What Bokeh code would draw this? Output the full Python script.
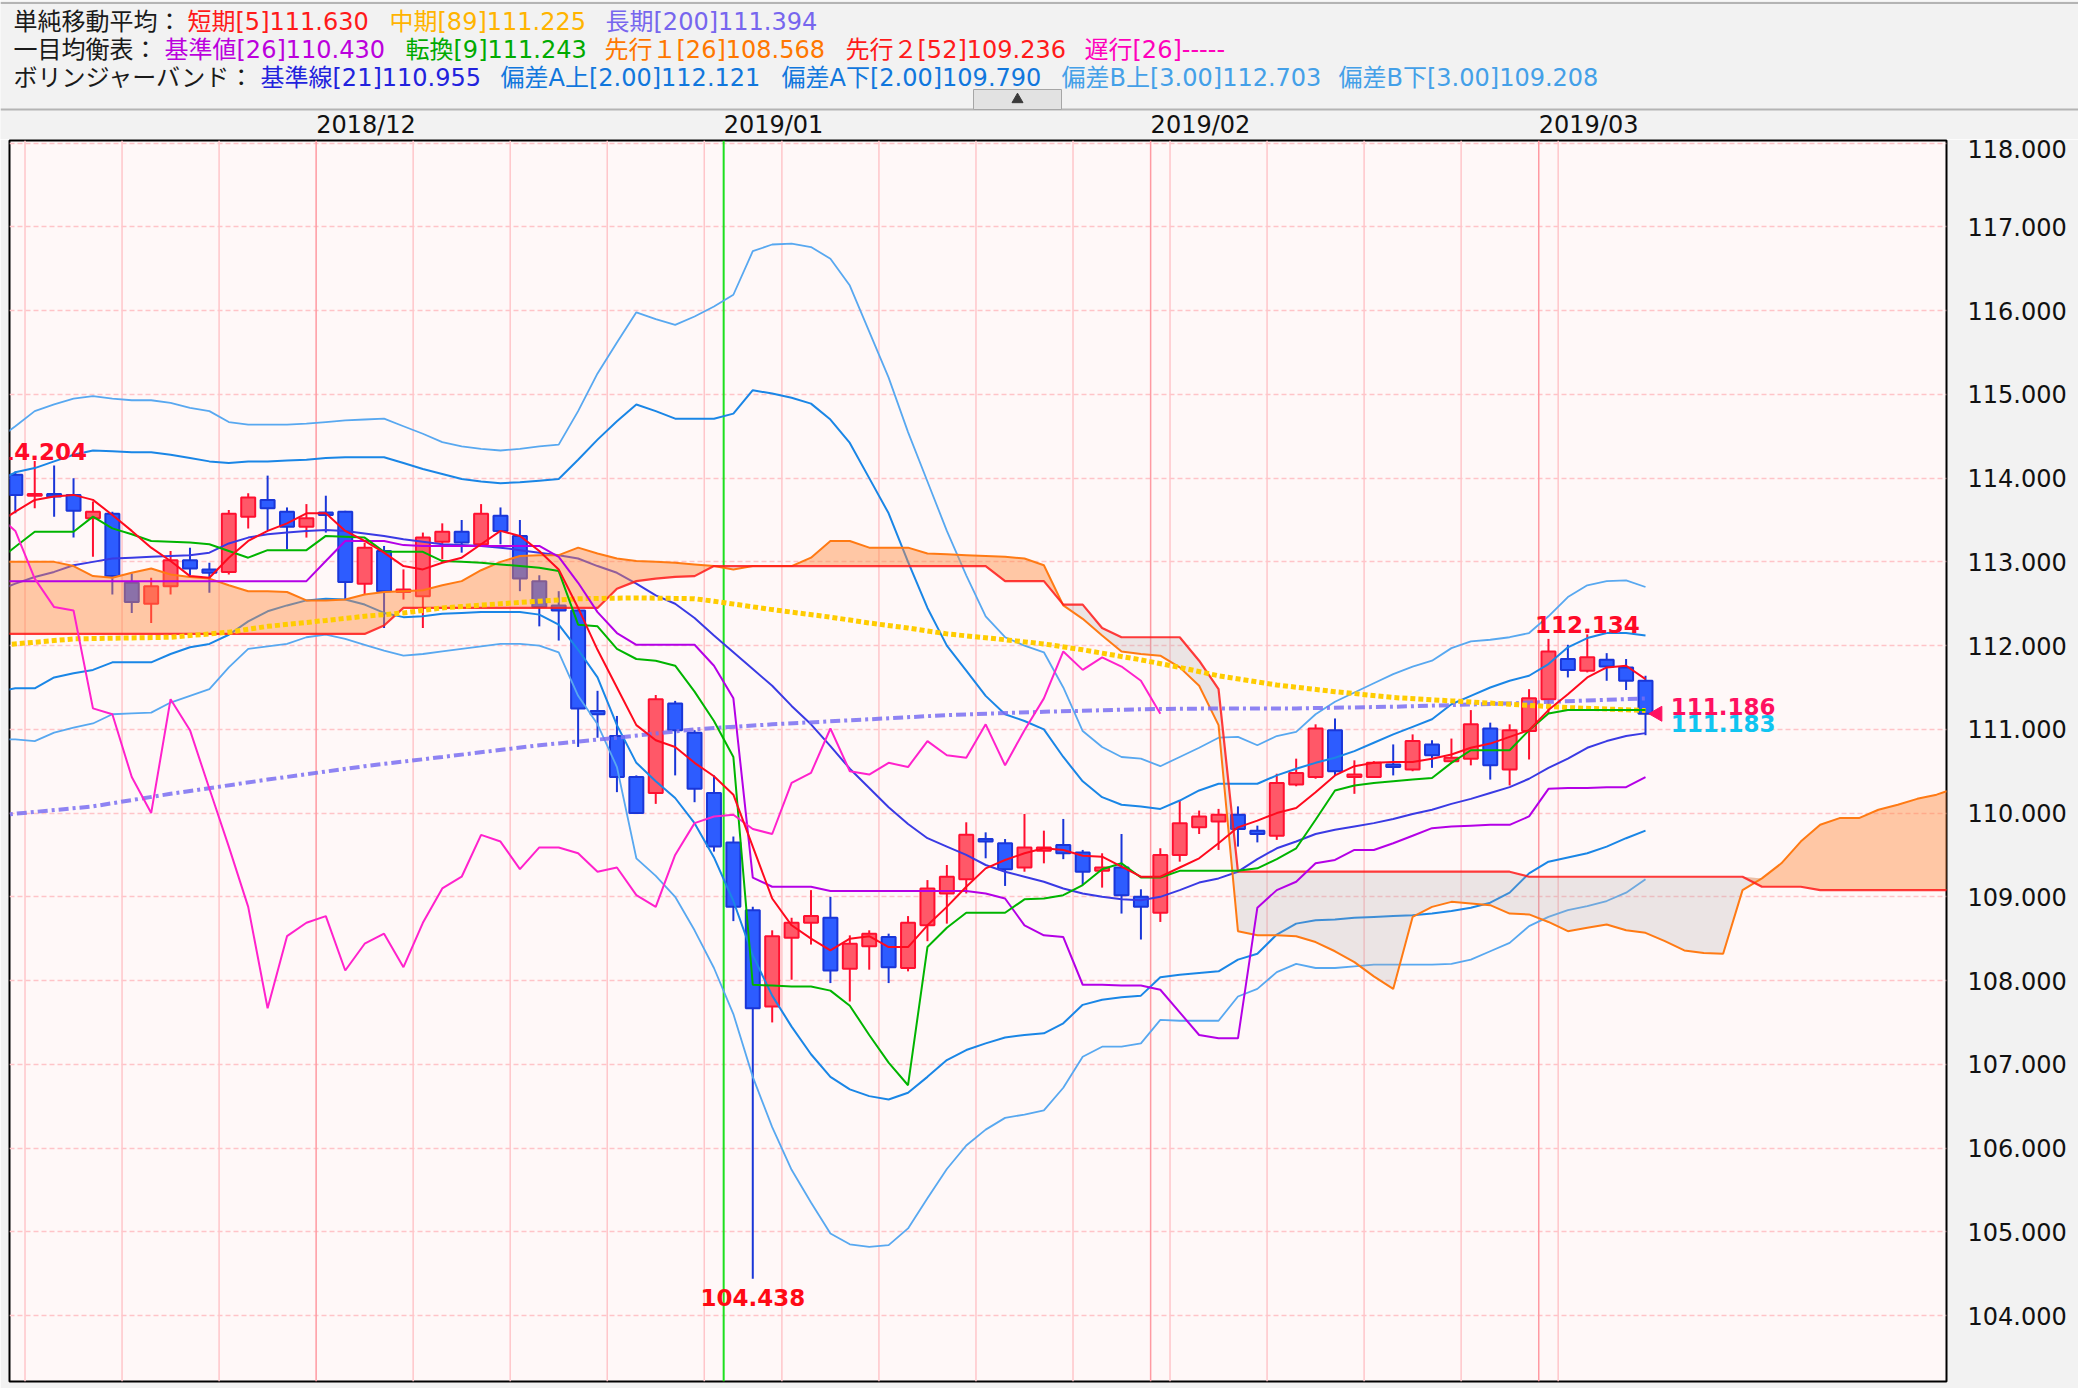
import numpy as np
from bokeh.plotting import figure
from bokeh.models import Range1d, FixedTicker, PrintfTickFormatter, ColumnDataSource, Span
from bokeh.layouts import column
from bokeh.embed import file_html
from bokeh.resources import INLINE
from bokeh.core.properties import value

# ---------------- data ----------------
# daily bars, index 0 = 2018/11/09 ... 84 = 2019/03/08
bar_idx = list(range(85))
open_ = [114.04, 113.79, 113.81, 113.80, 113.52, 113.575, 112.75, 112.50, 112.71, 113.02,
         112.91, 112.88, 113.54, 113.74, 113.60, 113.42, 113.59, 113.60, 112.74, 113.13,
         112.64, 112.59, 113.24, 113.36, 113.21, 113.55, 113.31, 112.77, 112.48, 112.42,
         111.22, 110.92, 110.43, 110.24, 111.31, 110.96, 110.24, 109.65, 108.84, 107.69,
         108.51, 108.69, 108.75, 108.14, 108.41, 108.52, 108.15, 108.66, 109.04, 109.21,
         109.69, 109.64, 109.35, 109.55, 109.62, 109.53, 109.31, 109.35, 109.00, 108.81,
         109.50, 109.83, 109.90, 109.98, 109.79, 109.73, 110.34, 110.43, 110.99, 110.43,
         110.43, 110.58, 110.52, 110.82, 110.62, 110.65, 111.01, 110.52, 110.98, 111.36,
         111.84, 111.70, 111.83, 111.74, 111.58]
high = [114.08, 114.204, 114.15, 114.00, 113.72, 113.60, 112.86, 112.81, 113.13, 113.17,
        112.99, 113.62, 113.82, 114.03, 113.65, 113.69, 113.79, 113.61, 113.23, 113.19,
        112.91, 113.35, 113.46, 113.50, 113.69, 113.65, 113.50, 112.84, 112.65, 112.43,
        111.46, 111.16, 110.45, 111.41, 111.34, 110.99, 110.45, 109.72, 108.88, 108.60,
        108.75, 109.08, 109.00, 108.54, 108.60, 108.56, 108.77, 109.20, 109.38, 109.89,
        109.77, 109.69, 109.99, 109.79, 109.93, 109.56, 109.52, 109.75, 109.09, 109.58,
        110.15, 110.03, 110.05, 110.08, 109.85, 110.47, 110.65, 111.06, 111.13, 110.63,
        110.62, 110.82, 110.94, 110.87, 110.89, 111.23, 111.08, 111.06, 111.48, 112.08,
        112.01, 112.134, 111.91, 111.84, 111.64]
low = [113.58, 113.64, 113.54, 113.29, 113.06, 112.61, 112.39, 112.27, 112.61, 112.84,
       112.63, 112.85, 113.40, 113.38, 113.15, 113.29, 113.35, 112.55, 112.61, 112.21,
       112.55, 112.21, 113.03, 113.11, 113.21, 113.21, 112.65, 112.23, 112.06, 110.79,
       110.90, 110.25, 109.99, 110.11, 110.45, 110.13, 109.54, 108.71, 104.438, 107.50,
       108.01, 108.43, 107.97, 107.75, 108.13, 107.97, 108.11, 108.47, 108.68, 109.04,
       109.46, 109.13, 109.30, 109.40, 109.45, 109.14, 109.11, 108.80, 108.49, 108.70,
       109.42, 109.75, 109.56, 109.60, 109.65, 109.68, 110.32, 110.41, 110.45, 110.23,
       110.42, 110.45, 110.50, 110.54, 110.60, 110.57, 110.40, 110.33, 110.64, 111.19,
       111.62, 111.68, 111.58, 111.47, 110.93]
close = [113.80, 113.81, 113.78, 113.61, 113.60, 112.83, 112.52, 112.71, 113.02, 112.92,
         112.87, 113.575, 113.77, 113.64, 113.42, 113.52, 113.56, 112.76, 113.17, 112.65,
         112.67, 113.29, 113.36, 113.23, 113.575, 113.37, 112.80, 112.46, 112.42, 111.25,
         111.18, 110.43, 110.00, 111.36, 110.99, 110.29, 109.60, 108.88, 107.67, 108.53,
         108.69, 108.77, 108.12, 108.44, 108.56, 108.16, 108.69, 109.10, 109.24, 109.74,
         109.66, 109.33, 109.59, 109.59, 109.52, 109.30, 109.35, 109.02, 108.88, 109.50,
         109.88, 109.96, 109.98, 109.81, 109.75, 110.36, 110.48, 111.01, 110.50, 110.46,
         110.60, 110.55, 110.86, 110.69, 110.66, 111.06, 110.57, 110.99, 111.37, 111.93,
         111.71, 111.86, 111.75, 111.58, 111.186]

# indicator lines, positions -1 .. 84
line_idx = list(range(-1, 85))
sma5 = [113.45, 113.60, 113.74, 113.78, 113.80, 113.74, 113.56, 113.37, 113.17, 113.01,
        112.83, 112.81, 113.05, 113.25, 113.37, 113.46, 113.58, 113.58, 113.37, 113.25,
        113.11, 112.95, 112.91, 112.99, 113.05, 113.21, 113.37, 113.31, 113.13, 112.91,
        112.45, 111.95, 111.50, 111.05, 110.87, 110.79, 110.60, 110.44, 110.22, 109.60,
        108.98, 108.66, 108.50, 108.36, 108.50, 108.53, 108.40, 108.40, 108.66, 108.88,
        109.12, 109.34, 109.44, 109.52, 109.58, 109.56, 109.49, 109.48, 109.36, 109.24,
        109.24, 109.35, 109.46, 109.64, 109.83, 109.91, 110.00, 110.06, 110.25, 110.45,
        110.56, 110.60, 110.61, 110.61, 110.65, 110.70, 110.78, 110.83, 110.91, 110.99,
        111.23, 111.42, 111.62, 111.74, 111.76, 111.60]
tenkan = [113.00, 113.18, 113.36, 113.36, 113.36, 113.54, 113.40, 113.33, 113.25, 113.24,
          113.23, 113.21, 113.13, 113.05, 113.14, 113.14, 113.14, 113.31, 113.30, 113.29,
          113.12, 113.12, 113.12, 113.01, 113.00, 112.99, 112.97, 112.95, 112.93, 112.89,
          112.25, 112.23, 111.96, 111.84, 111.82, 111.76, 111.45, 111.10, 110.67, 107.95,
          107.94, 107.93, 107.93, 107.88, 107.70, 107.35, 107.02, 106.75, 108.40, 108.63,
          108.81, 108.81, 108.81, 108.97, 108.98, 109.02, 109.14, 109.33, 109.40, 109.23,
          109.23, 109.31, 109.31, 109.31, 109.31, 109.34, 109.45, 109.58, 109.92, 110.27,
          110.33, 110.36, 110.38, 110.40, 110.42, 110.60, 110.75, 110.75, 110.75, 110.99,
          111.19, 111.23, 111.23, 111.23, 111.23, 111.23]
kijun = [112.77, 112.77, 112.77, 112.77, 112.77, 112.77, 112.77, 112.77, 112.77, 112.77,
         112.77, 112.77, 112.77, 112.77, 112.77, 112.77, 112.77, 113.01, 113.25, 113.25,
         113.25, 113.20, 113.19, 113.19, 113.19, 113.19, 113.19, 113.19, 113.19, 113.06,
         112.75, 112.40, 112.15, 112.01, 112.01, 112.01, 112.01, 111.76, 111.37, 109.23,
         109.12, 109.12, 109.12, 109.07, 109.07, 109.07, 109.07, 109.07, 109.07, 109.07,
         109.07, 109.04, 108.98, 108.66, 108.54, 108.52, 107.95, 107.95, 107.94, 107.94,
         107.89, 107.62, 107.35, 107.31, 107.31, 108.87, 109.08, 109.18, 109.40, 109.44,
         109.56, 109.56, 109.64, 109.73, 109.82, 109.84, 109.85, 109.86, 109.86, 109.96,
         110.29, 110.30, 110.30, 110.31, 110.31, 110.43]
bb_mid = [112.65, 112.74, 112.82, 112.88, 112.96, 113.00, 113.04, 113.05, 113.06, 113.07,
          113.08, 113.11, 113.22, 113.29, 113.33, 113.35, 113.37, 113.38, 113.37, 113.34,
          113.31, 113.27, 113.24, 113.21, 113.20, 113.19, 113.17, 113.14, 113.11, 113.08,
          113.04, 112.95, 112.87, 112.74, 112.60, 112.50, 112.33, 112.12, 111.92, 111.72,
          111.52, 111.28, 111.06, 110.80, 110.53, 110.30, 110.07, 109.87, 109.70, 109.60,
          109.50, 109.38, 109.30, 109.24, 109.18, 109.10, 109.04, 109.00, 108.97, 108.96,
          109.00, 109.08, 109.17, 109.22, 109.30, 109.45, 109.58, 109.66, 109.75, 109.80,
          109.84, 109.88, 109.93, 109.99, 110.04, 110.11, 110.17, 110.24, 110.31, 110.41,
          110.54, 110.65, 110.78, 110.86, 110.92, 110.955]
bb_up2 = [113.95, 114.07, 114.12, 114.20, 114.28, 114.33, 114.32, 114.31, 114.31, 114.28,
          114.24, 114.20, 114.18, 114.20, 114.20, 114.21, 114.22, 114.24, 114.25, 114.25,
          114.25, 114.18, 114.11, 114.05, 113.99, 113.96, 113.94, 113.95, 113.97, 113.99,
          114.22, 114.46, 114.68, 114.88, 114.80, 114.71, 114.71, 114.71, 114.77, 115.05,
          115.01, 114.96, 114.89, 114.70, 114.42, 114.00, 113.58, 113.00, 112.45, 112.00,
          111.70, 111.40, 111.18, 111.10, 111.00, 110.67, 110.38, 110.19, 110.10, 110.08,
          110.05, 110.15, 110.27, 110.35, 110.35, 110.35, 110.45, 110.53, 110.60, 110.66,
          110.74, 110.84, 110.94, 111.03, 111.12, 111.30, 111.40, 111.50, 111.58, 111.64,
          111.78, 111.98, 112.09, 112.15, 112.15, 112.12]
bb_lo2 = [111.45, 111.49, 111.49, 111.62, 111.67, 111.71, 111.80, 111.80, 111.80, 111.90,
          111.98, 112.02, 112.13, 112.29, 112.41, 112.48, 112.54, 112.56, 112.55, 112.49,
          112.39, 112.34, 112.35, 112.38, 112.39, 112.40, 112.40, 112.40, 112.37, 112.25,
          111.95, 111.62, 111.05, 110.60, 110.38, 110.18, 109.88, 109.47, 108.95, 108.30,
          107.82, 107.45, 107.12, 106.85, 106.70, 106.62, 106.58, 106.66, 106.85, 107.05,
          107.17, 107.25, 107.32, 107.35, 107.37, 107.49, 107.71, 107.77, 107.80, 107.82,
          108.04, 108.07, 108.09, 108.11, 108.25, 108.32, 108.55, 108.68, 108.72, 108.73,
          108.75, 108.76, 108.77, 108.78, 108.80, 108.83, 108.87, 108.93, 109.05, 109.28,
          109.42, 109.47, 109.52, 109.60, 109.70, 109.79]
bb_up3 = [114.45, 114.62, 114.80, 114.88, 114.95, 114.98, 114.95, 114.93, 114.93, 114.90,
          114.84, 114.80, 114.67, 114.64, 114.64, 114.64, 114.65, 114.67, 114.69, 114.70,
          114.71, 114.62, 114.53, 114.43, 114.38, 114.35, 114.33, 114.35, 114.38, 114.40,
          114.80, 115.25, 115.62, 115.98, 115.90, 115.83, 115.93, 116.05, 116.19, 116.71,
          116.79, 116.80, 116.76, 116.62, 116.30, 115.75, 115.20, 114.55, 113.96, 113.37,
          112.84, 112.35, 112.10, 112.00, 111.92, 111.50, 110.98, 110.79, 110.67, 110.65,
          110.56, 110.67, 110.78, 110.90, 110.91, 110.81, 110.92, 110.97, 111.18, 111.33,
          111.44, 111.55, 111.66, 111.75, 111.82, 111.97, 112.05, 112.07, 112.10, 112.15,
          112.35, 112.58, 112.72, 112.77, 112.78, 112.70]
bb_lo3 = [110.88, 110.88, 110.86, 110.96, 111.02, 111.07, 111.18, 111.19, 111.20, 111.32,
          111.40, 111.48, 111.74, 111.96, 111.99, 112.02, 112.10, 112.13, 112.08, 112.01,
          111.94, 111.88, 111.90, 111.93, 111.96, 111.99, 112.02, 112.02, 112.00, 111.92,
          111.40, 111.06, 110.55, 109.46, 109.25, 109.00, 108.60, 108.15, 107.60, 106.85,
          106.25, 105.74, 105.35, 104.98, 104.85, 104.82, 104.84, 105.04, 105.40, 105.75,
          106.03, 106.22, 106.36, 106.40, 106.45, 106.72, 107.09, 107.21, 107.21, 107.25,
          107.53, 107.52, 107.52, 107.52, 107.81, 107.90, 108.10, 108.20, 108.15, 108.15,
          108.17, 108.19, 108.19, 108.19, 108.19, 108.20, 108.25, 108.35, 108.45, 108.65,
          108.76, 108.84, 108.89, 108.95, 109.05, 109.21]

# moving averages 89 / 200 (vertices)
sma89_x = [-1, 3, 8, 11, 13, 16, 18, 20, 22, 25, 27, 29, 32, 35, 36, 39, 42, 44, 46, 48, 51,
           53, 55, 58, 60, 62, 65, 68, 71, 74, 77, 80, 84]
sma89_y = [112.00, 112.08, 112.10, 112.16, 112.23, 112.30, 112.35, 112.39, 112.45, 112.50,
           112.53, 112.56, 112.57, 112.56, 112.53, 112.43, 112.34, 112.27, 112.21, 112.14,
           112.07, 112.02, 111.95, 111.83, 111.74, 111.64, 111.53, 111.45, 111.38, 111.34,
           111.30, 111.26, 111.225]
sma200_x = [-1, 4, 8, 13, 18, 22, 27, 31, 35, 39, 44, 48, 53, 58, 62, 66, 71, 77, 84]
sma200_y = [109.97, 110.08, 110.23, 110.40, 110.56, 110.67, 110.81, 110.90, 111.00, 111.06,
            111.12, 111.17, 111.21, 111.24, 111.25, 111.25, 111.27, 111.31, 111.37]

# ichimoku cloud (leading spans), positions -1 .. 100
cloud_idx = list(range(-1, 101))
senkou_a = [113.00, 113.00, 113.00, 113.00, 112.95, 112.83, 112.81, 112.87, 112.92, 112.85,
            112.82, 112.80, 112.72, 112.65, 112.65, 112.64, 112.54, 112.54, 112.55, 112.61,
            112.64, 112.65, 112.66, 112.72, 112.77, 112.90, 113.00, 113.07, 113.08, 113.08,
            113.17, 113.10, 113.04, 113.01, 113.00, 112.99, 112.97, 112.95, 112.91, 112.95,
            112.95, 112.95, 113.05, 113.25, 113.25, 113.17, 113.17, 113.17, 113.10, 113.09,
            113.08, 113.07, 113.06, 113.04, 112.96, 112.48, 112.32, 112.12, 111.93, 111.90,
            111.88, 111.74, 111.52, 111.05, 108.59, 108.54, 108.54, 108.53, 108.46, 108.35,
            108.22, 108.05, 107.90, 108.76, 108.88, 108.94, 108.92, 108.90, 108.80, 108.79,
            108.70, 108.59, 108.63, 108.67, 108.60, 108.57, 108.47, 108.36, 108.33, 108.32,
            109.08, 109.22, 109.40, 109.66, 109.86, 109.94, 109.94, 110.04, 110.10, 110.17,
            110.22, 110.30]
senkou_b = [112.14, 112.14, 112.14, 112.14, 112.14, 112.14, 112.14, 112.14, 112.14, 112.14,
            112.14, 112.14, 112.14, 112.14, 112.14, 112.14, 112.14, 112.14, 112.14, 112.14,
            112.24, 112.45, 112.45, 112.45, 112.45, 112.45, 112.45, 112.45, 112.45, 112.45,
            112.45, 112.45, 112.68, 112.77, 112.80, 112.82, 112.83, 112.95, 112.95, 112.95,
            112.95, 112.95, 112.95, 112.95, 112.95, 112.95, 112.95, 112.95, 112.95, 112.95,
            112.95, 112.95, 112.77, 112.77, 112.77, 112.49, 112.49, 112.21, 112.10, 112.10,
            112.10, 112.10, 111.82, 111.48, 109.30, 109.30, 109.30, 109.30, 109.30, 109.30,
            109.30, 109.30, 109.30, 109.30, 109.30, 109.30, 109.30, 109.30, 109.30, 109.24,
            109.24, 109.24, 109.24, 109.24, 109.24, 109.24, 109.24, 109.24, 109.24, 109.24,
            109.24, 109.12, 109.12, 109.12, 109.08, 109.08, 109.08, 109.08, 109.08, 109.08,
            109.08, 109.08]

chikou_shift = 25
price_tags = [111.186, 111.183]

# calendar lines
week_start_idx = [1, 6, 11, 21, 26, 31, 36, 40, 45, 50, 55, 60, 65, 70, 75, 80]
month_start_idx = [16, 59, 79]
year_start_idx = [37]
month_label_idx = [16, 37, 59, 79]
month_labels = ["2018/12", "2019/01", "2019/02", "2019/03"]
y_ticks = [104, 105, 106, 107, 108, 109, 110, 111, 112, 113, 114, 115, 116, 117, 118]

# header legend
legend_rows = [
    [("単純移動平均：", "#1a1a1a"), ("短期[5]111.630", "#ff1a1a"),
     ("中期[89]111.225", "#ffb400"), ("長期[200]111.394", "#7766ee")],
    [("一目均衡表：", "#1a1a1a"), ("基準値[26]110.430", "#bb00dd"), ("転換[9]111.243", "#00aa00"),
     ("先行１[26]108.568", "#ff7700"), ("先行２[52]109.236", "#ff1a1a"), ("遅行[26]-----", "#ff00bb")],
    [("ボリンジャーバンド：", "#1a1a1a"), ("基準線[21]110.955", "#2222dd"),
     ("偏差A上[2.00]112.121", "#1177dd"), ("偏差A下[2.00]109.790", "#1177dd"),
     ("偏差B上[3.00]112.703", "#44a0e8"), ("偏差B下[3.00]109.208", "#44a0e8")],
]
legend_x = [[13, 187, 389, 605], [13, 164, 405, 604, 845, 1084], [13, 260, 500, 781, 1061, 1338]]
legend_y = [21, 49, 77]

# ---------------- layout ----------------
W = 2078
HDR_H = 139
MAIN_H = 1249
BL, BR, BT, BB = 9, W - 1946, 1, 7
X0, X1 = -0.30, 99.51
Y0, Y1 = 103.212, 118.032
ppx = (W - BL - BR) / (X1 - X0)

FONT = value("DejaVu Sans, Noto Sans CJK JP")

hdr = figure(width=W, height=HDR_H, y_range=Range1d(HDR_H, 0),
             output_backend="svg", toolbar_location=None,
             x_axis_location=None, y_axis_location=None,
             background_fill_color="#f2f2f2", border_fill_color="#f2f2f2", outline_line_color=None)
hdr.grid.grid_line_color = None

p = figure(width=W, height=MAIN_H, x_range=Range1d(X0, X1), y_range=Range1d(Y0, Y1),
           output_backend="svg", toolbar_location=None, x_axis_location=None, y_axis_location="right",
           min_border_left=BL, min_border_right=BR, min_border_top=BT, min_border_bottom=BB,
           background_fill_color="#fff8f8", border_fill_color="#f2f2f2",
           outline_line_color="#000000", outline_line_width=2)

if "frame_align" in hdr.properties():
    hdr.frame_align = False
    p.frame_align = False
    hdr.min_border = 0
    hdr.x_range = Range1d(0, W)
    hdr.extra_x_ranges = {"idx": Range1d(X0 - BL / ppx, X1 + BR / ppx)}
else:
    hdr.min_border_left = BL
    hdr.min_border_right = BR
    hdr.min_border_top = 0
    hdr.min_border_bottom = 0
    hdr.x_range = Range1d(BL, W - BR)
    hdr.extra_x_ranges = {"idx": Range1d(X0, X1)}

for row, xs, yy in zip(legend_rows, legend_x, legend_y):
    hdr.text(x=xs, y=[yy] * len(xs), text=[t for t, c in row], text_color=[c for t, c in row],
             text_font=FONT, text_font_size="24px", text_baseline="middle", text_align="left")

hdr.segment(x0=[0], y0=[2.5], x1=[W], y1=[2.5], line_color="#b4b4b4", line_width=2)
hdr.segment(x0=[0], y0=[109], x1=[W], y1=[109], line_color="#b4b4b4", line_width=2)
hdr.quad(left=[973], right=[1061], top=[89], bottom=[109], fill_color="#e2e2e2",
         line_color="#a6a6a6", line_width=1)
hdr.scatter(x=[1017], y=[99], marker="triangle", size=11, color="#3a3a3a")
hdr.text(x=[i - 0.5 for i in month_label_idx], y=[124.5] * len(month_labels), text=month_labels,
         x_range_name="idx", text_font=value("DejaVu Sans"), text_font_size="24px",
         text_color="#111111", text_align="left", text_baseline="middle")

# main chart
p.xgrid.visible = False
p.ygrid.ticker = FixedTicker(ticks=y_ticks)
p.ygrid.grid_line_color = "#ffc4c8"
p.ygrid.grid_line_dash = "5 3"
p.ygrid.grid_line_width = 1.5
p.yaxis.ticker = FixedTicker(ticks=y_ticks)
p.yaxis.formatter = PrintfTickFormatter(format="%.3f")
p.yaxis.major_label_text_font = "DejaVu Sans"
p.yaxis.major_label_text_font_size = "24px"
p.yaxis.major_label_text_color = "#111111"
p.yaxis.major_label_standoff = 15
p.yaxis.axis_line_color = None
p.yaxis.major_tick_line_color = None
p.yaxis.minor_tick_line_color = None

for i in week_start_idx:
    p.add_layout(Span(location=i - 0.5, dimension="height", line_color="#ffc6ca",
                      line_width=1.5, level="underlay"))
for i in month_start_idx:
    p.add_layout(Span(location=i - 0.5, dimension="height", line_color="#ff9aa2",
                      line_width=1.5, level="underlay"))
for i in year_start_idx:
    p.add_layout(Span(location=i - 0.5, dimension="height", line_color="#1ee01e",
                      line_width=2, level="underlay"))

# candles
o = np.array(open_); c = np.array(close)
up = c >= o
src = ColumnDataSource(dict(
    x=bar_idx, h=high, l=low,
    top=np.maximum(o, c), bottom=np.minimum(o, c),
    fill=np.where(up, "#ff5868", "#2d5cff"),
    edge=np.where(up, "#ff1030", "#1a36d8"),
))
p.segment(x0="x", y0="l", x1="x", y1="h", line_color="edge", line_width=2, source=src)
p.vbar(x="x", width=0.72, top="top", bottom="bottom", fill_color="fill", line_color="edge",
       line_width=2, source=src)

# bollinger bands (beneath cloud)
p.line(line_idx, bb_up3, line_color="#58a8f0", line_width=1.8)
p.line(line_idx, bb_lo3, line_color="#58a8f0", line_width=1.8)
p.line(line_idx, bb_up2, line_color="#1a86e6", line_width=2)
p.line(line_idx, bb_lo2, line_color="#1a86e6", line_width=2)
p.line(line_idx, bb_mid, line_color="#3a3ae4", line_width=2)

# cloud
sa = np.array(senkou_a); sb = np.array(senkou_b)
top_ab = np.maximum(sa, sb)
p.varea(x=cloud_idx, y1=sb, y2=top_ab, fill_color="#ff8c40", fill_alpha=0.45)
p.varea(x=cloud_idx, y1=sa, y2=top_ab, fill_color="#b0a6a6", fill_alpha=0.25)
p.line(cloud_idx, senkou_a, line_color="#ff7a14", line_width=2)
p.line(cloud_idx, senkou_b, line_color="#ff1a1a", line_width=2.2, line_alpha=0.85)

# long moving averages
p.line(sma200_x, sma200_y, line_color="#7a6ef2", line_width=4, line_dash="10 4 3 4", line_alpha=0.85)
p.line(sma89_x, sma89_y, line_color="#ffcc00", line_width=5, line_dash="5 3")

# ichimoku lines, chikou, sma5
p.line(line_idx, kijun, line_color="#b400e6", line_width=2)
p.line(line_idx, tenkan, line_color="#00b400", line_width=2)
p.line([i - chikou_shift for i in bar_idx[24:]], close[24:], line_color="#ff22cc", line_width=2)
p.line(line_idx, sma5, line_color="#ff0a1e", line_width=2)

# price labels
hi_i = int(np.argmax(high))
lo_i = int(np.argmin(low))
rh_i = 60 + int(np.argmax(high[60:]))
BOLD = value("DejaVu Sans")
p.text(x=[hi_i, rh_i], y=[high[hi_i], high[rh_i]],
       text=[f"{high[hi_i]:.3f}", f"{high[rh_i]:.3f}"], text_color="#ff0a28",
       text_font=BOLD, text_font_style="bold", text_font_size="23px",
       text_align="center", text_baseline="bottom", y_offset=-1)
p.text(x=[lo_i], y=[low[lo_i]], text=[f"{low[lo_i]:.3f}"], text_color="#ff0a14",
       text_font=BOLD, text_font_style="bold", text_font_size="23px",
       text_align="center", text_baseline="top", y_offset=10)

last = bar_idx[-1]
p.scatter(x=[last + 0.62], y=[price_tags[0]], marker="triangle", angle=np.pi / 2,
          size=15, color="#ff1060")
p.text(x=[last + 1.3], y=[price_tags[0]], text=[f"{price_tags[0]:.3f}"], text_color="#ff1060",
       text_font=BOLD, text_font_style="bold", text_font_size="23px",
       text_align="left", text_baseline="bottom", y_offset=1)
p.text(x=[last + 1.3], y=[price_tags[1]], text=[f"{price_tags[1]:.3f}"], text_color="#10c4f0",
       text_font=BOLD, text_font_style="bold", text_font_size="23px",
       text_align="left", text_baseline="top", y_offset=1)

layout = column(hdr, p, spacing=0)
open("out.html", "w").write(file_html(layout, INLINE, title="chart"))
